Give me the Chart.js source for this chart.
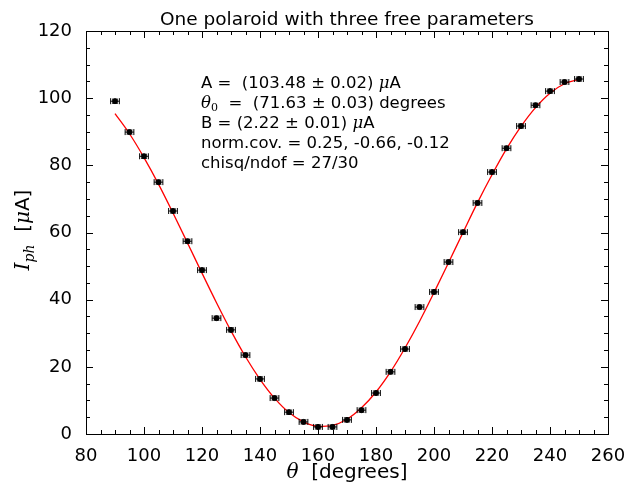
<!DOCTYPE html>
<html>
<head>
<meta charset="utf-8">
<script src="https://cdn.jsdelivr.net/npm/chart.js@4"></script>
<style>
  html, body { margin: 0; padding: 0; background: #fff; }
  #wrap { width: 644px; height: 485px; }
</style>
</head>
<body>
<div id="wrap"><canvas id="chart" width="644" height="485"></canvas></div>
<script>
// measured points (angle in degrees, photocurrent in uA)
const angles = [90, 95, 100, 105, 110, 115, 120, 125, 130, 135, 140, 145, 150, 155, 160, 165,
  170, 175, 180, 185, 190, 195, 200, 205, 210, 215, 220, 225, 230, 235, 240, 245, 250];
const current = [99.1, 89.9, 82.7, 75.0, 66.4, 57.4, 48.8, 34.5, 31.0, 23.5, 16.4, 10.7, 6.5, 3.6, 2.1, 2.1,
  4.2, 7.1, 12.2, 18.5, 25.3, 37.8, 42.3, 51.2, 60.1, 68.8, 78.0, 85.1, 91.7, 97.9, 102.1, 104.8, 105.7];
const angleErr = 1.5;
const currentErr = 0.6;

// fitted curve
const fitAngles = [90, 95, 100, 105, 110, 115, 120, 125, 130, 135, 140, 145, 150, 155, 160, 165,
  170, 175, 180, 185, 190, 195, 200, 205, 210, 215, 220, 225, 230, 235, 240, 245, 250];
const fitCurrent = [95.4, 89.4, 82.3, 74.4, 65.8, 56.9, 47.9, 39.1, 30.7, 23.0, 16.3, 10.7, 6.4, 3.6, 2.3, 2.6,
  4.4, 7.8, 12.5, 18.5, 25.6, 33.5, 42.1, 51.0, 60.0, 68.9, 77.2, 84.9, 91.6, 97.2, 101.5, 104.3, 105.6];

const xTicks = [80, 100, 120, 140, 160, 180, 200, 220, 240, 260];
const yTicks = [0, 20, 40, 60, 80, 100, 120];

const sans = '"DejaVu Sans", sans-serif';
const serif = '"DejaVu Serif", serif';

function runs(ctx, x, y, parts) {
  parts.forEach(p => {
    ctx.font = p.font;
    ctx.fillText(p.t, x, y + (p.dy || 0));
    x += ctx.measureText(p.t).width;
  });
}

const decor = {
  id: 'decor',
  afterDatasetsDraw(chart) {
    const ctx = chart.ctx;
    const xs = chart.scales.x, ys = chart.scales.y;
    const a = chart.chartArea;
    ctx.save();

    // error bars
    ctx.strokeStyle = '#000';
    ctx.lineWidth = 1;
    angles.forEach((t, i) => {
      const px = xs.getPixelForValue(t), py = ys.getPixelForValue(current[i]);
      const x0 = xs.getPixelForValue(t - angleErr), x1 = xs.getPixelForValue(t + angleErr);
      const y0 = ys.getPixelForValue(current[i] - currentErr), y1 = ys.getPixelForValue(current[i] + currentErr);
      ctx.beginPath();
      ctx.moveTo(x0, py); ctx.lineTo(x1, py);
      ctx.moveTo(x0, py - 3); ctx.lineTo(x0, py + 3);
      ctx.moveTo(x1, py - 3); ctx.lineTo(x1, py + 3);
      ctx.moveTo(px, y0); ctx.lineTo(px, y1);
      ctx.moveTo(px - 3, y0); ctx.lineTo(px + 3, y0);
      ctx.moveTo(px - 3, y1); ctx.lineTo(px + 3, y1);
      ctx.stroke();
    });

    // frame
    ctx.lineWidth = 1;
    ctx.strokeRect(Math.round(a.left) + 0.5, Math.round(a.top) + 0.5,
      Math.round(a.right - a.left), Math.round(a.bottom - a.top));

    // inward ticks on all sides
    ctx.beginPath();
    for (let v = 80; v <= 260; v += 5) {
      const px = Math.round(xs.getPixelForValue(v)) + 0.5;
      const len = v % 20 === 0 ? 7 : 4;
      ctx.moveTo(px, a.bottom); ctx.lineTo(px, a.bottom - len);
      ctx.moveTo(px, a.top); ctx.lineTo(px, a.top + len);
    }
    for (let v = 0; v <= 120; v += 5) {
      const py = Math.round(ys.getPixelForValue(v)) + 0.5;
      const len = v % 20 === 0 ? 7 : 4;
      ctx.moveTo(a.left, py); ctx.lineTo(a.left + len, py);
      ctx.moveTo(a.right, py); ctx.lineTo(a.right - len, py);
    }
    ctx.stroke();

    // title
    ctx.fillStyle = '#000';
    ctx.textBaseline = 'alphabetic';
    ctx.textAlign = 'center';
    ctx.font = '18.5px ' + sans;
    ctx.fillText('One polaroid with three free parameters', (a.left + a.right) / 2, 25);

    // x axis title
    ctx.textAlign = 'left';
    ctx.font = 'italic 20px ' + serif;
    const w1 = ctx.measureText('\u03b8').width;
    ctx.font = '20px ' + sans;
    const w2 = ctx.measureText('  [degrees]').width;
    let sx = (a.left + a.right) / 2 - (w1 + w2) / 2;
    runs(ctx, sx, 478, [
      { t: '\u03b8', font: 'italic 20px ' + serif },
      { t: '  [degrees]', font: '20px ' + sans }
    ]);

    // y axis title
    ctx.save();
    ctx.translate(29, (a.top + a.bottom) / 2);
    ctx.rotate(-Math.PI / 2);
    ctx.font = 'italic 20px ' + serif;
    const yw = ctx.measureText('I').width + 14 + 0;
    ctx.font = '20px ' + sans;
    const yw2 = ctx.measureText('  [').width + ctx.measureText('A]').width + 12;
    runs(ctx, -(yw + yw2) / 2, 0, [
      { t: 'I', font: 'italic 20px ' + serif },
      { t: 'ph', font: 'italic 14px ' + serif, dy: 5 },
      { t: '  [', font: '20px ' + sans },
      { t: '\u03bc', font: 'italic 20px ' + serif },
      { t: 'A]', font: '20px ' + sans }
    ]);
    ctx.restore();

    // fit results
    const f = '16.5px ' + sans, m = 'italic 16.5px ' + serif;
    const tx = 201;
    runs(ctx, tx, 88, [{ t: 'A =  (103.48 \u00b1 0.02) ', font: f }, { t: '\u03bc', font: m }, { t: 'A', font: f }]);
    runs(ctx, tx, 108, [{ t: '\u03b8', font: m }, { t: '0', font: '11px ' + serif, dy: 3 },
      { t: '  =  (71.63 \u00b1 0.03) degrees', font: f }]);
    runs(ctx, tx, 128, [{ t: 'B = (2.22 \u00b1 0.01) ', font: f }, { t: '\u03bc', font: m }, { t: 'A', font: f }]);
    runs(ctx, tx, 148, [{ t: 'norm.cov. = 0.25, -0.66, -0.12', font: f }]);
    runs(ctx, tx, 168, [{ t: 'chisq/ndof = 27/30', font: f }]);

    ctx.restore();
  }
};

new Chart(document.getElementById('chart'), {
  type: 'scatter',
  data: {
    datasets: [
      {
        type: 'line',
        data: fitAngles.map((t, i) => ({ x: t, y: fitCurrent[i] })),
        borderColor: '#ff0000',
        borderWidth: 1.3,
        pointRadius: 0,
        cubicInterpolationMode: 'monotone',
        fill: false,
        order: 2
      },
      {
        data: angles.map((t, i) => ({ x: t, y: current[i] })),
        backgroundColor: '#000',
        borderColor: '#000',
        pointRadius: 2.5,
        order: 1
      }
    ]
  },
  options: {
    responsive: false,
    animation: false,
    layout: { padding: { top: 31, right: 36, left: 0, bottom: 0 } },
    plugins: { legend: { display: false }, tooltip: { enabled: false } },
    scales: {
      x: {
        type: 'linear', min: 80, max: 260,
        afterBuildTicks: s => { s.ticks = xTicks.map(v => ({ value: v })); },
        afterFit: s => { s.height = 51; },
        grid: { display: false },
        border: { display: false },
        ticks: { color: '#000', padding: 4, maxRotation: 0, font: { family: sans, size: 18 } }
      },
      y: {
        type: 'linear', min: 0, max: 120,
        afterBuildTicks: s => { s.ticks = yTicks.map(v => ({ value: v })); },
        afterFit: s => { s.width = 86; },
        grid: { display: false },
        border: { display: false },
        ticks: { color: '#000', padding: 6, font: { family: sans, size: 18 } }
      }
    }
  },
  plugins: [decor]
});
</script>
</body>
</html>
